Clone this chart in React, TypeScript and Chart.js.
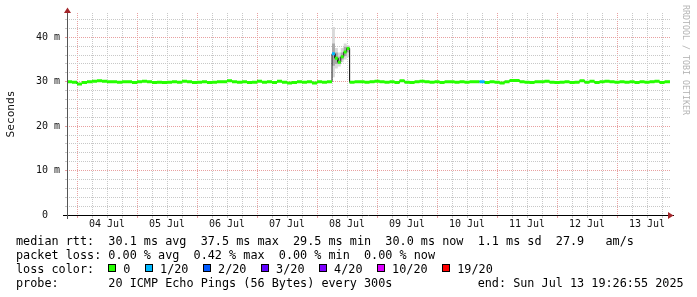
import React, { useEffect, useRef } from "react";
import { Chart, registerables } from "chart.js";

Chart.register(...registerables);

// ---- time axis (hours relative to 04 Jul 00:00) ----
const rangeStartHour = -4;
const rangeEndHour = 237.2;
const dayLabels = ["04 Jul", "05 Jul", "06 Jul", "07 Jul", "08 Jul", "09 Jul", "10 Jul", "11 Jul", "12 Jul", "13 Jul"];

// ---- value axis (milliseconds) ----
const yMax = 45.47;
const yLabelValues = [0, 10, 20, 30, 40];
const yLabelTexts = ["0  ", "10 m", "20 m", "30 m", "40 m"];

// ---- median rtt, 2 h buckets before the incident ----
const beforeStartHour = -4;
const baseStepHours = 2;
const medianBefore = [
  30.0, 29.9, 29.5, 29.8, 30.0, 30.1, 30.2, 30.1, 30.0, 30.0,
  29.9, 30.0, 30.0, 29.8, 30.0, 30.1, 30.0, 29.8, 29.9, 29.8,
  29.9, 30.0, 29.9, 30.1, 30.0, 29.8, 29.9, 30.0, 29.8, 29.9,
  30.0, 30.0, 30.2, 30.0, 29.9, 30.0, 29.8, 29.9, 30.1, 29.9,
  30.0, 29.8, 30.1, 29.9, 29.7, 29.8, 30.0, 29.9, 30.0, 29.7,
  30.0, 29.9, 30.0,
];

// ---- the latency bump on 08 Jul, finer buckets ----
const spikeStartHour = 102;
const spikeStepHours = 1.17;
const spikeMedian = [36.3, 35.3, 34.4, 35.6, 36.7, 37.5];
const spikeLoss = [1, 0, 0, 0, 0, 0];
const spikeSmokeLow = [31.0, 33.0, 33.4, 34.4, 35.0, 35.5];
const spikeSmokeHigh = [42.3, 37.6, 36.6, 37.6, 38.6, 38.2];
const spikeCoreLow = [33.6, 34.0, 34.0, 35.0, 35.8, 36.6];
const spikeCoreHigh = [38.6, 36.6, 35.6, 36.6, 37.9, 37.9];

// ---- median rtt, 2 h buckets after the incident ----
const medianAfter = [
  29.9, 30.0, 30.0, 29.9, 30.0, 30.1, 30.0, 29.9, 30.0, 29.8,
  30.2, 29.9, 29.8, 30.0, 30.1, 30.0, 29.9, 30.0, 29.8, 30.0,
  30.0, 29.9, 30.0, 29.9, 30.0, 30.0, 30.0, 29.8, 30.0, 29.9,
  29.7, 30.0, 30.3, 30.3, 30.0, 29.9, 29.8, 30.0, 30.0, 30.1,
  29.9, 29.8, 29.9, 30.0, 29.8, 29.9, 30.2, 29.9, 30.1, 29.8,
  30.0, 30.1, 30.0, 29.9, 30.0, 29.9, 30.0, 29.8, 30.0, 29.9,
  30.0, 30.1, 29.8, 30.0,
];
const lossAfter = [
  0, 0, 0, 0, 0, 0, 0, 0, 0, 0,
  0, 0, 0, 0, 0, 0, 0, 0, 0, 0,
  0, 0, 0, 0, 0, 0, 1, 0, 0, 0,
  0, 0, 0, 0, 0, 0, 0, 0, 0, 0,
  0, 0, 0, 0, 0, 0, 0, 0, 0, 0,
  0, 0, 0, 0, 0, 0, 0, 0, 0, 0,
  0, 0, 0, 0,
];

// ---- loss colour scale ----
const lossLevels = [0, 1, 2, 3, 4, 10, 19];
const lossLabels = ["0", "1/20", "2/20", "3/20", "4/20", "10/20", "19/20"];
const lossColors = ["#26ff00", "#00b8ff", "#0059ff", "#5e00ff", "#7e00ff", "#dd00ff", "#ff0000"];

// ---- legend text ----
const legendRtt = "median rtt:  30.1 ms avg  37.5 ms max  29.5 ms min  30.0 ms now  1.1 ms sd  27.9   am/s";
const legendLoss = "packet loss: 0.00 % avg  0.42 % max  0.00 % min  0.00 % now";
const legendLossTitle = "loss color:  ";
const legendProbe = "probe:       20 ICMP Echo Pings (56 Bytes) every 300s            end: Sun Jul 13 19:26:55 2025";
const watermark = "RRDTOOL / TOBI OETIKER";
const yAxisTitle = "Seconds";

const MONO = "'DejaVu Sans Mono', monospace";
const MINOR_GRID = "#c8c8c8";
const MAJOR_GRID = "#e8a0a0";

type Sample = { start: number; end: number; median: number; loss: number };

function buildSamples(): Sample[] {
  const out: Sample[] = [];
  medianBefore.forEach((m, i) => {
    const s = beforeStartHour + i * baseStepHours;
    out.push({ start: s, end: s + baseStepHours, median: m, loss: 0 });
  });
  spikeMedian.forEach((m, i) => {
    const s = spikeStartHour + i * spikeStepHours;
    out.push({ start: s, end: s + spikeStepHours, median: m, loss: spikeLoss[i] });
  });
  const afterStart = spikeStartHour + spikeMedian.length * spikeStepHours;
  medianAfter.forEach((m, i) => {
    const s = afterStart + i * baseStepHours;
    const e = i === medianAfter.length - 1 ? rangeEndHour : s + baseStepHours;
    out.push({ start: s, end: e, median: m, loss: lossAfter[i] });
  });
  return out;
}

function lossColorIndex(loss: number): number {
  let k = 0;
  lossLevels.forEach((lv, i) => {
    if (loss >= lv) k = i;
  });
  return k;
}

function stepPoints(values: number[]) {
  const pts: { x: number; y: number }[] = [];
  values.forEach((v, i) => {
    const s = spikeStartHour + i * spikeStepHours;
    pts.push({ x: s, y: v }, { x: s + spikeStepHours, y: v });
  });
  return pts;
}

function buildDatasets() {
  const samples = buildSamples();
  const clear = "rgba(0,0,0,0)";
  const sets: any[] = [
    { data: stepPoints(spikeSmokeLow), borderColor: clear, borderWidth: 0, fill: false, order: 40 },
    { data: stepPoints(spikeSmokeHigh), borderColor: clear, borderWidth: 0, backgroundColor: "#d9d9d9", fill: { target: 0 }, order: 40 },
    { data: stepPoints(spikeCoreLow), borderColor: clear, borderWidth: 0, fill: false, order: 30 },
    { data: stepPoints(spikeCoreHigh), borderColor: clear, borderWidth: 0, backgroundColor: "#a9a9a9", fill: { target: 2 }, order: 30 },
  ];
  // thin dark median trace (shows the vertical transitions)
  const trace: { x: number; y: number }[] = [];
  samples.forEach((s) => trace.push({ x: s.start, y: s.median }, { x: s.end, y: s.median }));
  sets.push({ data: trace, borderColor: "#202020", borderWidth: 1, fill: false, order: 20 });
  // thick loss-coloured horizontal pieces
  const byColor = new Map<number, any[]>();
  samples.forEach((s) => {
    const k = lossColorIndex(s.loss);
    if (!byColor.has(k)) byColor.set(k, []);
    byColor.get(k)!.push({ x: s.start, y: s.median }, { x: s.end, y: s.median }, { x: s.end, y: null });
  });
  byColor.forEach((pts, k) => {
    sets.push({ data: pts, borderColor: lossColors[k], borderWidth: 3, borderCapStyle: "butt", spanGaps: false, fill: false, order: 10 - k });
  });
  return sets;
}

const axisPlugin = {
  id: "rrdAxes",
  afterDatasetsDraw(chart: any) {
    const { ctx, chartArea } = chart;
    const { left, right, top, bottom } = chartArea;
    const lx = Math.round(left) + 0.5;
    const by = Math.round(bottom) + 0.5;
    ctx.save();
    ctx.lineWidth = 1;
    ctx.strokeStyle = "#000000";
    ctx.beginPath();
    ctx.moveTo(left - 4, by);
    ctx.lineTo(right + 4, by);
    ctx.stroke();
    ctx.strokeStyle = "#555555";
    ctx.beginPath();
    ctx.moveTo(lx, bottom + 4);
    ctx.lineTo(lx, top - 2);
    ctx.stroke();
    ctx.fillStyle = "#a3262a";
    ctx.beginPath();
    ctx.moveTo(lx - 3.5, top);
    ctx.lineTo(lx + 3.5, top);
    ctx.lineTo(lx, top - 5.5);
    ctx.closePath();
    ctx.fill();
    ctx.beginPath();
    ctx.moveTo(right - 2, by - 3.5);
    ctx.lineTo(right - 2, by + 3.5);
    ctx.lineTo(right + 3.5, by);
    ctx.closePath();
    ctx.fill();
    ctx.restore();
  },
};

function LossLegendRow() {
  return (
    <div style={{ position: "absolute", left: 16, top: 262, font: `11.8px ${MONO}`, lineHeight: "14px", whiteSpace: "pre", color: "#000" }}>
      <span>{legendLossTitle}</span>
      {lossLabels.map((lbl, i) => (
        <React.Fragment key={lbl}>
          <span
            style={{
              display: "inline-block",
              width: 8,
              height: 8,
              boxSizing: "border-box",
              border: "1px solid #000",
              background: lossColors[i],
              marginRight: 7,
              verticalAlign: "1px",
            }}
          />
          <span>{lbl}</span>
          <span style={{ display: "inline-block", width: 14.6 }} />
        </React.Fragment>
      ))}
    </div>
  );
}

export default function App() {
  const canvasRef = useRef<HTMLCanvasElement>(null);

  useEffect(() => {
    const canvas = canvasRef.current;
    if (!canvas) return;
    const xTickHours: number[] = [];
    for (let h = 0; h <= rangeEndHour; h += 6) xTickHours.push(h);
    const yTickValues: number[] = [];
    for (let v = 0; v <= yMax; v += 2) yTickValues.push(v);

    const gridColorX = (c: any) => (c.tick && c.tick.value % 24 === 0 ? MAJOR_GRID : MINOR_GRID);
    const gridColorY = (c: any) => (c.tick && c.tick.value % 10 === 0 ? MAJOR_GRID : MINOR_GRID);

    const chart = new Chart(canvas, {
      type: "line",
      data: { datasets: buildDatasets() },
      options: {
        responsive: false,
        animation: false,
        devicePixelRatio: 1,
        parsing: true,
        layout: { padding: { left: 0, right: 27, top: 13, bottom: 0 } },
        elements: { point: { radius: 0, hoverRadius: 0 }, line: { tension: 0 } },
        plugins: { legend: { display: false }, tooltip: { enabled: false }, title: { display: false } },
        events: [],
        scales: {
          x: {
            type: "linear",
            min: rangeStartHour,
            max: rangeEndHour,
            afterBuildTicks: (s: any) => {
              s.ticks = xTickHours.map((v) => ({ value: v }));
            },
            afterFit: (s: any) => {
              s.height = 82;
            },
            grid: { color: gridColorX, tickColor: gridColorX, lineWidth: 1, tickLength: 3, drawTicks: true },
            border: { display: false, dash: [1, 1] },
            ticks: {
              autoSkip: false,
              maxRotation: 0,
              minRotation: 0,
              padding: 0,
              color: "#111",
              font: { family: MONO, size: 10 },
              callback: (v: any) => {
                const n = Number(v);
                if (n % 24 !== 12) return "";
                return dayLabels[Math.floor(n / 24)] ?? "";
              },
            },
          },
          y: {
            type: "linear",
            min: 0,
            max: yMax,
            afterBuildTicks: (s: any) => {
              s.ticks = yTickValues.map((v) => ({ value: v }));
            },
            afterFit: (s: any) => {
              s.width = 67;
            },
            grid: { color: gridColorY, tickColor: gridColorY, lineWidth: 1, tickLength: 2, drawTicks: true },
            border: { display: false, dash: [1, 1] },
            title: {
              display: true,
              text: yAxisTitle,
              color: "#111",
              font: { family: MONO, size: 11.2 },
              padding: { top: 4, bottom: 0 },
            },
            ticks: {
              autoSkip: false,
              padding: 5,
              color: "#111",
              font: { family: MONO, size: 10 },
              callback: (v: any) => {
                const idx = yLabelValues.indexOf(Number(v));
                return idx >= 0 ? yLabelTexts[idx] : "";
              },
            },
          },
        },
      } as any,
      plugins: [axisPlugin],
    });
    return () => chart.destroy();
  }, []);

  return (
    <div style={{ position: "absolute", left: 0, top: 0, width: 697, height: 297, background: "#fff", overflow: "hidden" }}>
      <canvas ref={canvasRef} width={697} height={297} style={{ position: "absolute", left: 0, top: 0, width: 697, height: 297 }} />
      <div style={{ position: "absolute", left: 16, top: 234, font: `11.8px ${MONO}`, lineHeight: "14px", whiteSpace: "pre", color: "#000" }}>
        <div>{legendRtt}</div>
        <div>{legendLoss}</div>
      </div>
      <LossLegendRow />
      <div style={{ position: "absolute", left: 16, top: 276, font: `11.8px ${MONO}`, lineHeight: "14px", whiteSpace: "pre", color: "#000" }}>
        {legendProbe}
      </div>
      <div
        style={{
          position: "absolute",
          left: 691,
          top: 5,
          font: `8.3px ${MONO}`,
          lineHeight: "10px",
          whiteSpace: "pre",
          color: "#b4b4b4",
          transform: "rotate(90deg)",
          transformOrigin: "0 0",
        }}
      >
        {watermark}
      </div>
    </div>
  );
}
